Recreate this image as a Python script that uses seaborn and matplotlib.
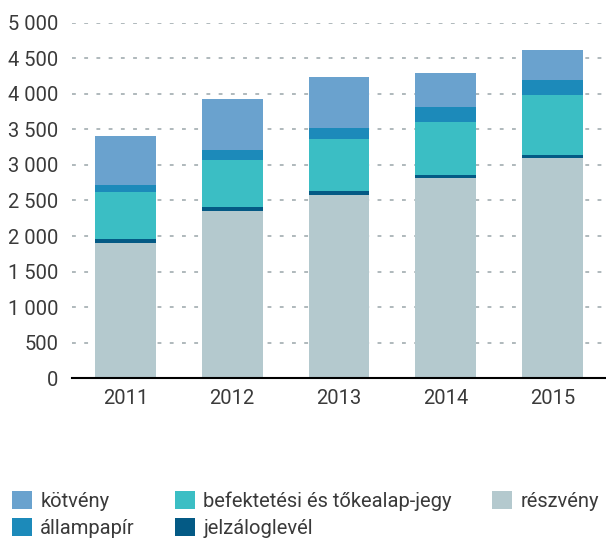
import pandas as pd
import seaborn as sns
import matplotlib.pyplot as plt
from matplotlib.ticker import FuncFormatter, FixedLocator

# data
years = ["2011", "2012", "2013", "2014", "2015"]
reszveny = [1900, 2355, 2580, 2820, 3100]
jelzaloglevel = [60, 55, 55, 40, 45]
befektetesi = [660, 660, 735, 745, 845]
allampapir = [100, 140, 155, 210, 210]
kotveny = [690, 720, 705, 480, 410]

series = [
    ("részvény", reszveny, "#b4c9ce"),
    ("jelzáloglevél", jelzaloglevel, "#045a85"),
    ("befektetési és tőkealap-jegy", befektetesi, "#3bbec4"),
    ("állampapír", allampapir, "#1c8aba"),
    ("kötvény", kotveny, "#6aa2ce"),
]

# cumulative tops for stacking
df = pd.DataFrame({"year": years})
running = [0] * len(years)
for name, vals, _ in series:
    running = [a + b for a, b in zip(running, vals)]
    df[name] = running

sns.set_style("white")
plt.rcParams["font.family"] = ["Roboto", "DejaVu Sans"]
txt = "#3a3a3a"

fig = plt.figure(figsize=(6.06, 5.39), dpi=100)
ax = fig.add_axes([72 / 606, 1 - 378.2 / 539, 1 - 72 / 606, (378.2 - 22.7) / 539])

# draw tallest first so lower segments sit on top
for name, _, color in reversed(series):
    sns.barplot(data=df, x="year", y=name, color=color, width=0.57,
                saturation=1, label=name, ax=ax, zorder=2, linewidth=0)
if ax.legend_ is not None:
    ax.legend_.remove()

ax.set_ylim(0, 5000)
ax.set_xlim(-0.5, 4.5)
ax.set_xlabel("")
ax.set_ylabel("")

ax.yaxis.set_major_locator(FixedLocator(range(0, 5001, 500)))
ax.yaxis.set_major_formatter(FuncFormatter(lambda v, p: f"{int(v):,}".replace(",", " ")))
ax.grid(axis="y", color="#9aa5a9", linewidth=1.1, linestyle=(0, (2.5, 5.5)), zorder=0)
ax.set_axisbelow(True)

for s in ["left", "top", "right"]:
    ax.spines[s].set_visible(False)
ax.spines["bottom"].set_color("black")
ax.spines["bottom"].set_linewidth(1.5)
ax.spines["bottom"].set_zorder(3)

ax.tick_params(axis="y", direction="in", length=7, width=2, color="#7f8c8f",
               pad=10, labelsize=14.5, labelcolor=txt)
ax.tick_params(axis="x", which="major", length=0, pad=8, labelsize=14.5, labelcolor=txt)
ax.xaxis.set_minor_locator(FixedLocator([-0.5, 0.5, 1.5, 2.5, 3.5]))
ax.tick_params(axis="x", which="minor", direction="out", length=5, width=1.5, color="black")

handles, labels = ax.get_legend_handles_labels()
fig.legend(handles, labels, ncol=3, loc="upper left",
           bbox_to_anchor=(12 / 606, 1 - 491 / 539), bbox_transform=fig.transFigure,
           frameon=False, fontsize=14.5, labelcolor=txt, handlelength=1.0, handleheight=1.0,
           handletextpad=0.4, labelspacing=0.34, columnspacing=2.0, borderpad=0,
           borderaxespad=0)

fig.savefig("out.png", dpi=100)
